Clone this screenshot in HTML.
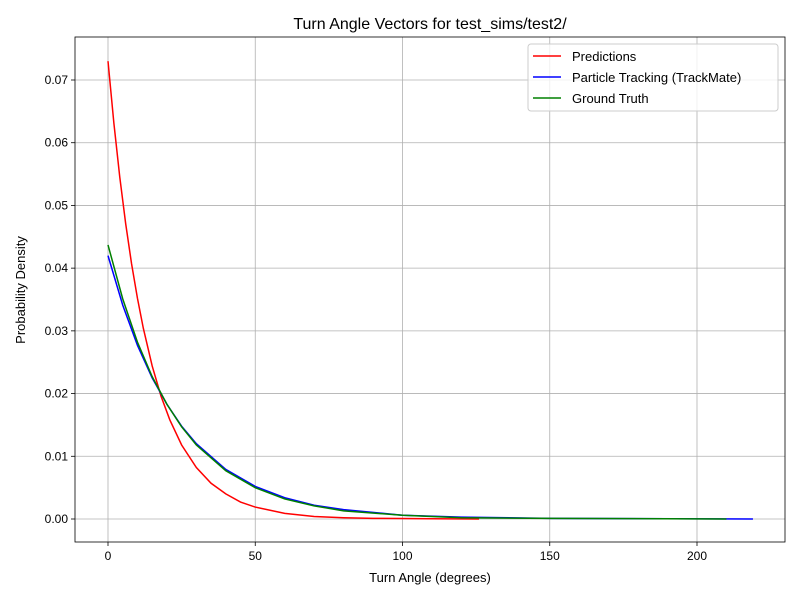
<!DOCTYPE html>
<html><head><meta charset="utf-8"><style>
body{margin:0;background:#fff;}
svg{display:block;font-family:"Liberation Sans","DejaVu Sans",sans-serif;}
</style></head><body>
<svg id="chart" width="800" height="600"></svg>
<script>
const xTicks=[0,50,100,150,200];
const yTicks=[0,0.01,0.02,0.03,0.04,0.05,0.06,0.07];
const yTickLabels=["0.00","0.01","0.02","0.03","0.04","0.05","0.06","0.07"];
const predX=[0,2,4,6,8,10,12,15,18,21,25,30,35,40,45,50,60,70,80,90,100,110,126];
const predY=[0.0730,0.0631,0.0545,0.0471,0.0407,0.0352,0.0304,0.0244,0.0196,0.0158,0.0118,0.0082,0.0057,0.0040,0.0027,0.0019,0.0009,0.0004,0.0002,0.0001,0.00007,0.00003,0];
const trackX=[0,5,10,15,20,25,30,40,50,60,70,80,100,120,150,219];
const trackY=[0.0420,0.0341,0.0277,0.0225,0.0183,0.0148,0.0120,0.0079,0.0052,0.0034,0.0022,0.0015,0.0006,0.0003,0.0001,0];
const truthX=[0,5,10,15,20,25,30,40,50,60,70,80,100,120,150,210];
const truthY=[0.0437,0.0351,0.0282,0.0227,0.0183,0.0147,0.0118,0.0077,0.0050,0.0032,0.0021,0.0013,0.0006,0.0002,0.0001,0];

const L=75,R=785,T=37,B=542;
const sx=v=>108+v*(697-108)/200;
const sy=v=>519-v*(519-80)/0.07;
const svg=document.getElementById('chart');
const NS='http://www.w3.org/2000/svg';
function mk(tag,attrs,parent){const e=document.createElementNS(NS,tag);for(const k in attrs)e.setAttribute(k,attrs[k]);(parent||svg).appendChild(e);return e;}

xTicks.forEach(v=>{
  const g=mk('line',{x1:sx(v),x2:sx(v),y1:T,y2:B,stroke:'#b0b0b0','stroke-width':0.8});
  
  
  const tk=mk('line',{x1:sx(v),x2:sx(v),y1:B,y2:B+4,stroke:'#000','stroke-width':0.8});
  
  
  const t=mk('text',{x:sx(v),y:B+18,'text-anchor':'middle','font-size':12});
  t.textContent=v;
  
  
});
yTicks.forEach((v,i)=>{
  const g=mk('line',{x1:L,x2:R,y1:sy(v),y2:sy(v),stroke:'#b0b0b0','stroke-width':0.8});
  
  
  const tk=mk('line',{x1:L-4,x2:L,y1:sy(v),y2:sy(v),stroke:'#000','stroke-width':0.8});
  
  
  const t=mk('text',{x:L-7,y:sy(v)+4,'text-anchor':'end','font-size':12});
  t.textContent=yTickLabels[i];
  
  
});
function series(xs,ys,color,name){
  const p=mk('polyline',{points:xs.map((x,i)=>sx(x)+','+sy(ys[i])).join(' '),fill:'none',stroke:color,'stroke-width':1.5});
  
  
}
series(predX,predY,'#ff0000','predictions-line');
series(trackX,trackY,'#0000ff','particle-tracking-line');
series(truthX,truthY,'#008000','ground-truth-line');

const frame=mk('rect',{x:L,y:T,width:R-L,height:B-T,fill:'none',stroke:'#000','stroke-width':0.8});



const title=mk('text',{x:430,y:29,'text-anchor':'middle','font-size':16});
title.textContent='Turn Angle Vectors for test_sims/test2/';


const xl=mk('text',{x:430,y:582,'text-anchor':'middle','font-size':13});
xl.textContent='Turn Angle (degrees)';


const yl=mk('text',{x:0,y:0,'text-anchor':'middle','font-size':13,transform:'translate(25,290) rotate(-90)'});
yl.textContent='Probability Density';



const lg=mk('rect',{x:528,y:44,width:250,height:67,rx:3,fill:'#fff','fill-opacity':0.8,stroke:'#ccc'});


[['Predictions','#ff0000'],['Particle Tracking (TrackMate)','#0000ff'],['Ground Truth','#008000']].forEach((e,i)=>{
  const y=56+i*21;
  const ln=mk('line',{x1:533,x2:561,y1:y,y2:y,stroke:e[1],'stroke-width':1.5});
  
  
  const t=mk('text',{x:572,y:y+5,'font-size':13});
  t.textContent=e[0];
  
  
});
</script>
</body></html>
